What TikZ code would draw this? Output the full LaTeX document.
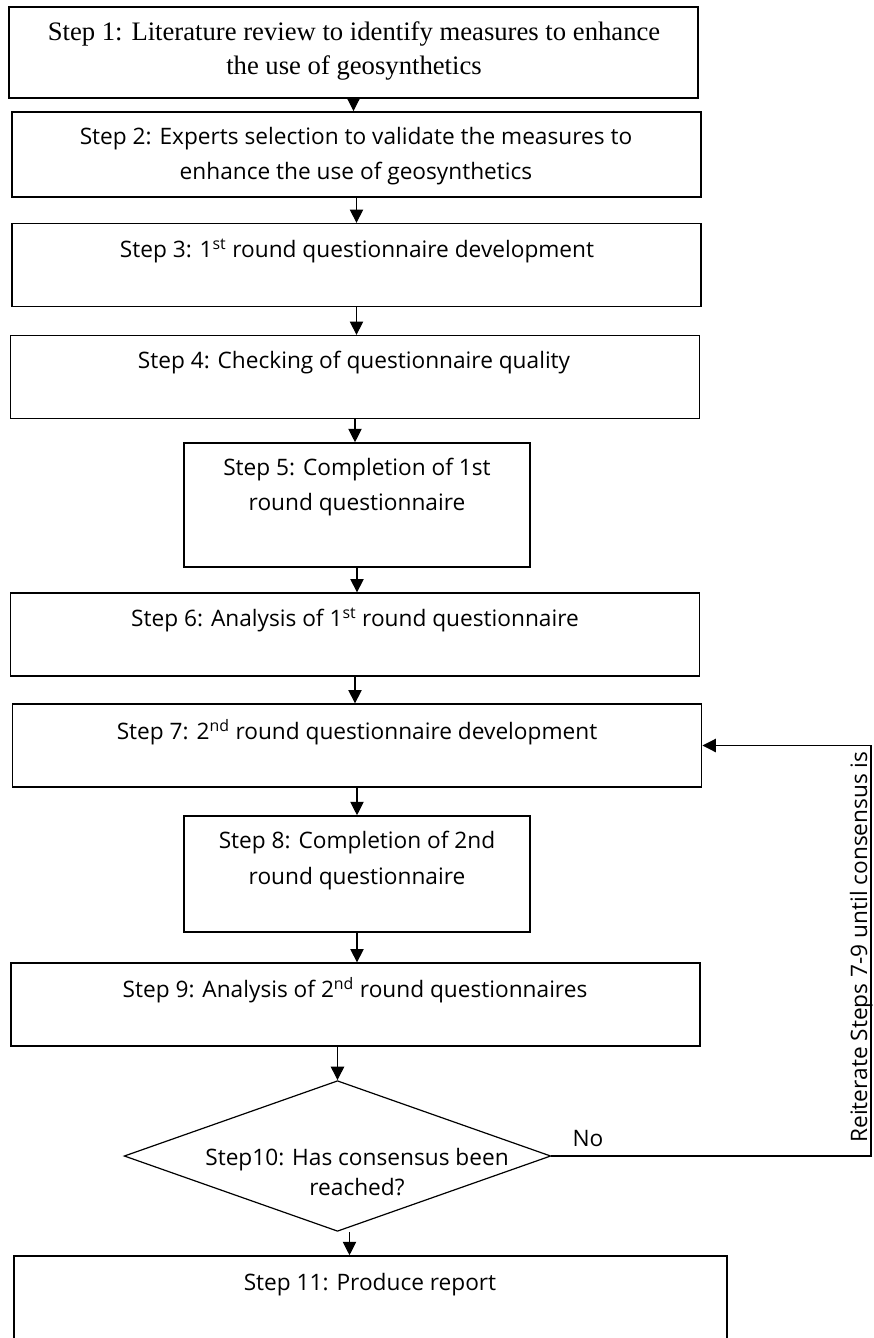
\documentclass[tikz,border=0pt]{standalone}
\usepackage{fontspec}
\setmainfont{Open Sans}
\newfontfamily\serifstep{Liberation Serif}
\usetikzlibrary{arrows.meta,shapes.geometric}

\begin{document}
\begin{tikzpicture}[x=0.75pt,y=-0.75pt,
    box/.style={draw,line width=1.2pt,minimum width=517pt,minimum height=62pt,inner sep=0pt},
    halfbox/.style={box,minimum width=259.5pt},
    steptext/.style={align=center,inner sep=0pt,font=\fontsize{17}{26.5}\selectfont},
    arr/.style={-{Triangle[width=10pt,length=10pt]},line width=0.8pt}]
    \useasboundingbox (0,0) rectangle (874,1338);
    %boxes
    \node[box,minimum height=68pt] (b1) at (353.5,52.5) {};
    \node[box,minimum height=64pt] (b2) at (356.5,154.5) {};
    \node[box] (b3) at (356.5,265) {};
    \node[box] (b4) at (355,377) {};
    \node[halfbox,minimum height=93pt] (b5) at (357,505) {};
    \node[box] (b6) at (355,634.5) {};
    \node[box] (b7) at (357,745.5) {};
    \node[halfbox,minimum height=87pt] (b8) at (357,874) {};
    \node[box] (b9) at (355.5,1004.5) {};
    \node[draw,diamond,line width=0.9pt,minimum width=320pt,minimum height=113pt,inner sep=0pt] (d10) at (337.5,1156) {};
    \node[box,minimum width=535pt,minimum height=66pt] (b11) at (370.5,1300) {};
    %texts
    \node[steptext,font=\serifstep\fontsize{20}{26}\selectfont] (t1) at (354,51)
        {Step 1: Literature review to identify measures to enhance\\ the use of geosynthetics};
    \node[steptext] (t2) at (356,156) {Step 2: Experts selection to validate the measures to\\ enhance the use of geosynthetics};
    \node[steptext] (t3) at (357,251) {Step 3: 1\textsuperscript{st} round questionnaire development};
    \node[steptext] (t4) at (354,363) {Step 4: Checking of questionnaire quality};
    \node[steptext] (t5) at (357,487) {Step 5: Completion of 1st\\ round questionnaire};
    \node[steptext] (t6) at (355,620) {Step 6: Analysis of 1\textsuperscript{st} round questionnaire};
    \node[steptext] (t7) at (357,732) {Step 7: 2\textsuperscript{nd} round questionnaire development};
    \node[steptext] (t8) at (357,860.5) {Step 8: Completion of 2nd\\ round questionnaire};
    \node[steptext] (t9) at (355,990) {Step 9: Analysis of 2\textsuperscript{nd} round questionnaires};
    \node[steptext,font=\fontsize{17}{22.5}\selectfont] (t10) at (357,1172) {Step10: Has consensus been\\ reached?};
    \node[steptext] (t11) at (370,1285) {Step 11: Produce report};
    %arrows
    \foreach \a/\b in {b1/b2,b2/b3,b3/b4,b4/b5,b5/b6,b6/b7,b7/b8,b8/b9}
        \draw[arr] (\a.south) -- (\a.south |- \b.north);
    \draw[arr] (d10.north |- b9.south) -- (d10.north);
    \draw[arr] ([xshift=9pt]d10.south) -- ([xshift=9pt]d10.south |- b11.north);
    %loop back
    \coordinate (back) at (871,1156);
    \draw[arr] (d10.east) -- (back) |- (b7.east);
    \node[steptext] (no) at (588,1139) {No};
    \node[steptext,rotate=90,anchor=base] (again) at (867,947) {Reiterate Steps 7-9 until consensus is};
\end{tikzpicture}
\end{document}
